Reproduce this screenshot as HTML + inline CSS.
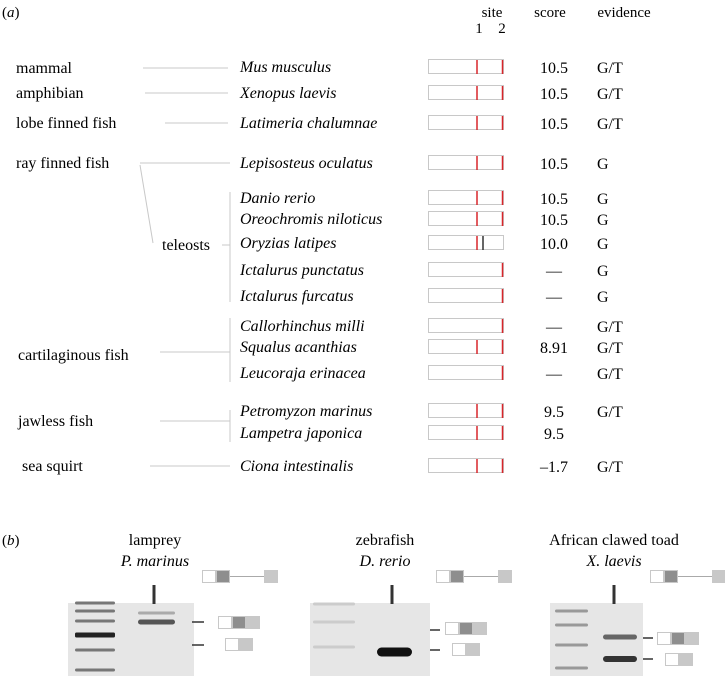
<!DOCTYPE html>
<html><head><meta charset="utf-8"><style>
body{margin:0;background:#fff;}
svg, svg text{font-family:"Liberation Serif","Noto Serif CJK SC","DejaVu Serif",serif;}
.i{font-style:italic}
</style></head><body>
<svg id="fig" width="725" height="676" viewBox="0 0 725 676">
<g id="a">
<text x="2" y="17" font-size="15">(<tspan class="i">a</tspan>)</text>
<text x="492" y="17" font-size="15" text-anchor="middle">site</text>
<text x="479" y="33" font-size="15" text-anchor="middle">1</text>
<text x="502" y="33" font-size="15" text-anchor="middle">2</text>
<text x="550" y="17" font-size="15" text-anchor="middle">score</text>
<text x="624" y="17" font-size="15" text-anchor="middle">evidence</text>
<g stroke="#c8c8c8" stroke-width="1" fill="none">
<line x1="143" y1="68" x2="228" y2="68"/>
<line x1="145" y1="93" x2="228" y2="93"/>
<line x1="165" y1="123" x2="228" y2="123"/>
<line x1="140" y1="163" x2="230" y2="163"/>
<line x1="140" y1="165" x2="153" y2="243"/>
<line x1="230" y1="192" x2="230" y2="302"/>
<line x1="222" y1="245" x2="230" y2="245"/>
<line x1="160" y1="352" x2="230" y2="352"/>
<line x1="230" y1="318" x2="230" y2="382"/>
<line x1="160" y1="421" x2="230" y2="421"/>
<line x1="230" y1="410" x2="230" y2="442"/>
<line x1="150" y1="466" x2="230" y2="466"/>
</g>
<g font-size="16">
<text x="16" y="73">mammal</text>
<text x="16" y="98">amphibian</text>
<text x="16" y="128">lobe finned fish</text>
<text x="16" y="168">ray finned fish</text>
<text x="162" y="250">teleosts</text>
<text x="18" y="360">cartilaginous fish</text>
<text x="18" y="426">jawless fish</text>
<text x="22" y="471">sea squirt</text>
</g>
<g id="rows"></g>
</g>
<g id="b">
<text x="2" y="545" font-size="15">(<tspan class="i">b</tspan>)</text>
<text x="155" y="545" font-size="16" text-anchor="middle">lamprey</text>
<text x="155" y="566" font-size="16" text-anchor="middle" class="i">P. marinus</text>
<text x="385" y="545" font-size="16" text-anchor="middle">zebrafish</text>
<text x="385" y="566" font-size="16" text-anchor="middle" class="i">D. rerio</text>
<text x="614" y="545" font-size="16" text-anchor="middle">African clawed toad</text>
<text x="614" y="566" font-size="16" text-anchor="middle" class="i">X. laevis</text>
<g id="gels"></g>
</g>
</svg>
<script>
const species=["Mus musculus","Xenopus laevis","Latimeria chalumnae","Lepisosteus oculatus","Danio rerio","Oreochromis niloticus","Oryzias latipes","Ictalurus punctatus","Ictalurus furcatus","Callorhinchus milli","Squalus acanthias","Leucoraja erinacea","Petromyzon marinus","Lampetra japonica","Ciona intestinalis"];
const rowY=[67,93,123,163,198,219,243,270,296,326,347,373,411,433,466];
const scores=["10.5","10.5","10.5","10.5","10.5","10.5","10.0","—","—","—","8.91","—","9.5","9.5","–1.7"];
const evidence=["G/T","G/T","G/T","G","G","G","G","G","G","G/T","G/T","G/T","G/T","","G/T"];
const site1=[1,1,1,1,1,1,1,0,0,0,1,0,1,1,1];
const NS="http://www.w3.org/2000/svg";
const rows=document.getElementById('rows');
function mk(tag,attrs,parent){const e=document.createElementNS(NS,tag);for(const k in attrs)e.setAttribute(k,attrs[k]);parent.appendChild(e);return e;}
species.forEach((s,i)=>{
  const y=rowY[i];
  const g=mk('g',{},rows);
  
  
  const t=mk('text',{x:240,y:y+5,'font-size':16,'font-style':'italic'},g);t.textContent=s;
  mk('rect',{x:428.5,y:y-7.5,width:75,height:14,fill:'#fff',stroke:'#c8c8c8'},g);
  if(site1[i]) mk('line',{x1:477,y1:y-7,x2:477,y2:y+7,stroke:'#d9252a','stroke-width':1.5},g);
  if(i===6) mk('line',{x1:483,y1:y-7,x2:483,y2:y+7,stroke:'#333','stroke-width':1.5},g);
  else mk('line',{x1:502.5,y1:y-7,x2:502.5,y2:y+7,stroke:'#d9252a','stroke-width':1.5},g);
  const sc=mk('text',{x:554,y:y+6,'font-size':16,'text-anchor':'middle'},g);sc.textContent=scores[i];
  const ev=mk('text',{x:597,y:y+6,'font-size':16},g);ev.textContent=evidence[i];
});
const gels=document.getElementById('gels');
function diag(x,y,parts,parent){
  const g=mk('g',{},parent);
  
  
  let cx=x;
  parts.forEach(p=>{
    if(p==='-'){mk('line',{x1:cx,y1:y+6.5,x2:cx+34,y2:y+6.5,stroke:'#aaa'},g);cx+=34;}
    else{mk('rect',{x:cx+0.5,y:y+0.5,width:13,height:12,fill:p,stroke:'#c8c8c8'},g);cx+=14;}
  });
}
const W='#fff',D='#8e8e8e',L='#c8c8c8';
const gelDefs=[
 {x:68,w:126,lane:154,lc:'#777',ladder:[75,115,[603,611,621,634,650,670]],bands:[[138,175,613,'#aaa',3],[138,175,622,'#555',5]],ticks:[622,645],top:[202,570],mid:[218,616],low:[225,638]},
 {x:310,w:120,lane:392,lc:'#ccc',ladder:[313,355,[604,622,647]],bands:[[377,412,652,'#111',9]],ticks:[630,650],top:[436,570],mid:[445,622],low:[452,643]},
 {x:550,w:93,lane:614,lc:'#999',ladder:[555,588,[611,625,645,668]],bands:[[603,637,637,'#666',5],[603,637,659,'#333',6]],ticks:[638,659],top:[650,570],mid:[657,632],low:[665,653]}
];
gelDefs.forEach(d=>{
  const g=mk('g',{},gels);
  
  
  mk('rect',{x:d.x,y:603,width:d.w,height:73,fill:'#e6e6e6'},g);
  mk('line',{x1:d.lane,y1:585,x2:d.lane,y2:604,stroke:'#333','stroke-width':3},g);
  d.ladder[2].forEach(by=>mk('rect',{x:d.ladder[0],y:by-1.5,width:d.ladder[1]-d.ladder[0],height:(by===634&&d.x===68)?5:3,fill:(by===634&&d.x===68)?'#222':d.lc,rx:1.5},g));
  d.bands.forEach(b=>mk('rect',{x:b[0],y:b[2]-b[4]/2,width:b[1]-b[0],height:b[4],fill:b[3],rx:b[4]/2},g));
  d.ticks.forEach(ty=>mk('line',{x1:d.x+d.w+(d.x===68?-2:0),y1:ty,x2:d.x+d.w+10,y2:ty,stroke:'#333','stroke-width':1.5},g));
  diag(d.top[0],d.top[1],[W,D,'-',L],g);
  diag(d.mid[0],d.mid[1],[W,D,L],g);
  diag(d.low[0],d.low[1],[W,L],g);
});
</script>
</body></html>
